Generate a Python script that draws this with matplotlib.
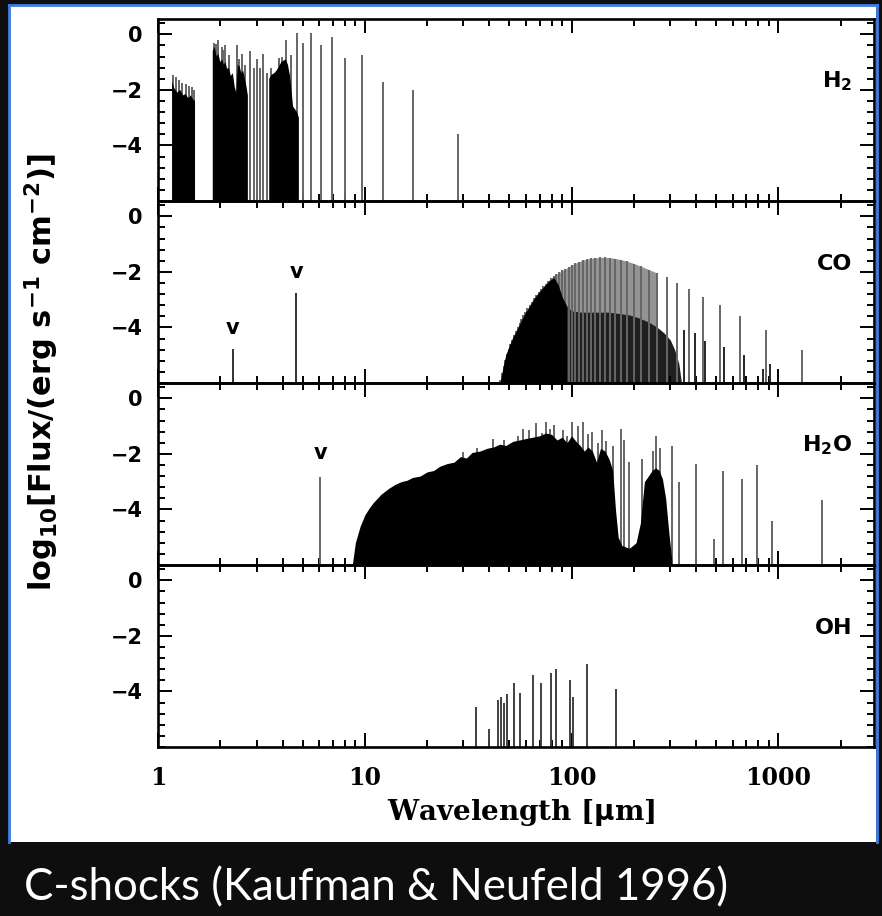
import numpy as np
import matplotlib.pyplot as plt
from matplotlib.lines import Line2D
from matplotlib.patches import Rectangle
from matplotlib.ticker import FixedLocator, MultipleLocator, LogLocator, NullFormatter

plt.rcParams['mathtext.fontset'] = 'dejavusans'

nan = np.nan

# ---------------- H2 ----------------
# unresolved groups of ro-vibrational lines (upper envelope, log flux)
h2_band_wl = [1.17, 1.20, 1.24, 1.28, 1.32, 1.36, 1.40, 1.44, 1.48, 1.51, nan,
              1.84, 1.88, 1.92, 1.96, 2.00, 2.04, 2.08, 2.12, 2.16, 2.20, 2.25, 2.30,
              2.35, 2.39, 2.43, 2.48, 2.53, 2.58, 2.63, 2.68, 2.72, nan,
              3.45, 3.55, 3.65, 3.75, 3.85, 3.95, 4.05, 4.15, 4.25, 4.35, 4.50, 4.70, 4.80]
h2_band_top = [-1.7, -1.95, -2.1, -2.0, -2.2, -2.15, -2.3, -2.2, -2.35, -2.4, nan,
               -0.6, -0.45, -0.8, -0.7, -1.0, -0.9, -1.1, -1.0, -1.25, -1.2, -1.5, -1.4,
               -1.9, -2.1, -1.1, -1.15, -1.4, -1.3, -1.6, -1.9, -2.2, nan,
               -1.6, -1.45, -1.4, -1.3, -1.15, -1.0, -0.95, -0.9, -1.1, -1.5, -2.6, -2.8, -3.0]
# individual lines
h2_wl = [1.18, 1.22, 1.27, 1.31, 1.36, 1.41, 1.46, 1.50,
         1.86, 1.91, 1.96, 2.03, 2.07, 2.12, 2.20, 2.41, 2.47, 2.56, 2.63, 2.80, 2.90,
         3.00, 3.12, 3.23, 3.35, 3.50, 3.85, 3.99, 4.18, 4.41, 4.69, 5.05, 5.51, 6.11,
         6.91, 8.03, 9.66, 12.28, 17.03, 28.22]
h2_flux = [-1.45, -1.55, -1.65, -1.75, -1.8, -1.85, -1.9, -2.0,
           -0.3, -0.35, -0.2, -0.45, -0.55, -0.4, -0.75, -0.4, -0.9, -0.7, -1.1, -0.6, -1.2,
           -0.9, -1.2, -0.7, -1.4, -1.2, -0.85, -0.8, -0.2, -0.75, 0.05, -0.3, 0.05, -0.4,
           -0.1, -0.85, -0.75, -1.7, -2.0, -3.6]

# ---------------- CO ----------------
co_wl = [1300.4, 867.0, 650.3, 520.2, 433.6, 371.7, 325.2, 289.1, 260.2, 236.6, 216.9,
         200.3, 186.0, 173.6, 162.8, 153.3, 144.8, 137.2, 130.4, 124.2, 118.6, 113.5,
         108.8, 104.4, 100.5, 96.8, 93.3, 90.2, 87.2, 84.4, 81.8, 79.4, 77.1, 75.0, 72.9,
         71.0, 69.2, 67.5, 65.7, 64.1, 62.6, 61.2, 59.8, 58.5, 57.2, 56.0, 54.8, 53.7,
         52.6, 51.6, 50.6, 49.6, 48.7, 47.8, 46.9, 46.1, 45.3]
co_flux = [-4.8, -4.1, -3.6, -3.2, -2.9, -2.6, -2.4, -2.2, -2.05, -1.92, -1.8,
           -1.7, -1.62, -1.56, -1.52, -1.49, -1.48, -1.48, -1.49, -1.51, -1.54, -1.58,
           -1.63, -1.69, -1.75, -1.82, -1.89, -1.95, -2.02, -2.08, -2.15, -2.23, -2.32,
           -2.42, -2.52, -2.62, -2.73, -2.84, -2.95, -3.07, -3.19, -3.31, -3.43, -3.56,
           -3.69, -3.83, -3.98, -4.13, -4.28, -4.44, -4.6, -4.78, -4.97, -5.17, -5.4,
           -5.65, -5.9]
# darker, lower series (isotopic lines)
co_iso_wl = [907.0, 840.0, 680.0, 545.0, 440.0, 395.0, 350.0]
co_iso_flux = [-5.3, -5.5, -5.0, -4.7, -4.5, -4.2, -4.1]
# dark unresolved core of the rotational dome
co_band_wl = [45.3, 46.0, 47.0, 48.0, 50.0, 52.0, 54.0, 56.0, 58.0, 60.0, 63.0, 66.0,
              70.0, 74.0, 78.0, 82.0, 86.0, 90.0, 95.0, 100.0, 110.0, 120.0, 135.0,
              150.0, 170.0, 190.0, 210.0, 235.0, 260.0, 280.0, 300.0, 315.0, 330.0, 340.0]
co_band_top = [-5.9, -5.65, -5.3, -5.0, -4.65, -4.35, -4.12, -3.88, -3.65, -3.45, -3.2,
               -2.95, -2.7, -2.5, -2.32, -2.2, -2.45, -2.9, -3.25, -3.4, -3.45, -3.45,
               -3.45, -3.45, -3.5, -3.55, -3.65, -3.8, -4.0, -4.2, -4.45, -4.8, -5.3, -6.0]
# vibrational bands
co_vib_wl = [2.30, 4.65]
co_vib_flux = [-4.76, -2.76]

# ---------------- H2O ----------------
h2o_band_wl = [8.7, 9.0, 9.5, 10.0, 10.5, 11.0, 12.0, 13.0, 14.0, 15.0, 16.0, 17.0,
               18.5, 20.0, 21.5, 23.0, 25.0, 27.0, 29.0, 31.0, 33.0, 36.0, 39.0, 42.0,
               45.0, 48.0, 52.0, 56.0, 60.0, 65.0, 70.0, 75.0, 80.0, 85.0, 90.0, 95.0,
               100.0, 105.0, 110.0, 115.0, 120.0, 126.0, 132.0, 138.0, 145.0, 152.0,
               158.0, 163.0, 168.0, 175.0, 190.0, 205.0, 215.0, 225.0, 235.0, 245.0,
               255.0, 265.0, 275.0, 285.0, 295.0, 305.0]
h2o_band_top = [-6.0, -5.2, -4.6, -4.2, -3.95, -3.75, -3.45, -3.25, -3.1, -3.0, -2.95,
                -2.85, -2.8, -2.65, -2.6, -2.45, -2.35, -2.3, -2.1, -2.15, -1.95, -1.9,
                -1.8, -1.75, -1.65, -1.7, -1.55, -1.5, -1.45, -1.4, -1.35, -1.25, -1.3,
                -1.5, -1.4, -1.6, -1.35, -1.55, -1.7, -1.9, -1.75, -1.9, -2.3, -1.8,
                -1.9, -2.2, -2.6, -4.0, -5.0, -5.3, -5.4, -5.2, -4.5, -3.0, -2.8, -2.6,
                -2.5, -2.6, -2.9, -3.6, -4.8, -5.8]
h2o_wl = [6.1, 30.0, 35.0, 41.6, 47.0, 55.0, 58.0, 62.0, 67.0, 72.0, 75.4, 79.0, 82.0,
          90.5, 95.0, 101.0, 108.0, 113.0, 120.0, 126.0, 134.0, 141.0, 147.0, 158.0,
          174.0, 180.0, 190.0, 218.0, 230.0, 248.0, 257.0, 269.0, 307.0, 330.0, 400.0,
          490.0, 538.0, 670.0, 790.0, 930.0, 1630.0]
h2o_flux = [-2.85, -1.95, -1.8, -1.45, -1.5, -1.35, -1.1, -1.15, -0.9, -1.25, -0.85,
            -1.1, -0.95, -1.15, -1.35, -0.84, -1.0, -0.85, -1.3, -1.2, -1.6, -1.13,
            -1.55, -1.7, -1.1, -1.5, -2.3, -2.2, -3.5, -1.9, -1.36, -1.8, -1.73, -3.0,
            -2.36, -5.05, -2.6, -2.9, -2.4, -4.4, -3.65]

# ---------------- OH ----------------
oh_wl = [34.6, 39.7, 44.0, 45.5, 47.0, 48.5, 52.8, 56.0, 65.1, 71.2, 79.1, 84.4,
         98.7, 101.5, 119.3, 163.1]
oh_flux = [-4.55, -5.35, -4.3, -4.2, -4.4, -4.1, -3.7, -4.05, -3.4, -3.7, -3.35, -3.2,
           -3.6, -4.2, -3.03, -3.9]

W, H = 882, 916
fig = plt.figure(figsize=(W / 100, H / 100), dpi=100, facecolor='#0e0e0e')
fig.patches.append(Rectangle((10 / W, 1 - 842 / H), 866 / W, 836 / H,
                             transform=fig.transFigure, facecolor='white',
                             edgecolor='none', zorder=-10))
blue = '#3f7de0'
for xs, ys in [([9 / W, 9 / W], [1 - 842 / H, 1 - 5 / H]),
               ([9 / W, 877 / W], [1 - 5 / H, 1 - 5 / H]),
               ([877 / W, 877 / W], [1 - 5 / H, 1 - 842 / H])]:
    fig.lines.append(Line2D(xs, ys, transform=fig.transFigure, color=blue, lw=2.0,
                            zorder=-5))

axes = fig.subplots(4, 1, sharex=True)
fig.subplots_adjust(left=158 / W, right=874 / W, top=1 - 19 / H, bottom=1 - 747 / H,
                    hspace=0)

bottom = -6.5
line_col = '0.4'
lw = 1.4

def style(ax):
    ax.set_facecolor('none')
    ax.set_xscale('log')
    ax.set_xlim(1, 2900)
    ax.set_ylim(-6.0, 0.55)
    ax.yaxis.set_major_locator(FixedLocator([0, -2, -4]))
    ax.yaxis.set_minor_locator(MultipleLocator(0.4))
    ax.set_yticklabels(['0', '\u22122', '\u22124'], fontsize=15, fontweight='bold')
    ax.xaxis.set_major_locator(FixedLocator([1, 10, 100, 1000]))
    ax.xaxis.set_minor_locator(LogLocator(base=10, subs=np.arange(2, 10)))
    ax.xaxis.set_minor_formatter(NullFormatter())
    ax.tick_params(which='both', direction='in', top=True, right=True,
                   width=1.4, color='black')
    ax.tick_params(which='major', length=10, pad=11)
    ax.tick_params(which='minor', length=5)
    for s in ax.spines.values():
        s.set_linewidth(1.9)
        s.set_zorder(5)

def label(ax, text):
    ax.text(0.97, -1.7, text, transform=ax.get_yaxis_transform(), ha='right',
            va='center', fontsize=16, fontweight='bold')

# H2
ax = axes[0]
ax.vlines(h2_wl, bottom, h2_flux, colors=line_col, lw=lw)
ax.fill_between(h2_band_wl, bottom, h2_band_top, color='black', lw=0, zorder=3)
label(ax, r'$\mathbf{H_2}$')

# CO
ax = axes[1]
co_wl_a = np.array(co_wl)
co_flux_a = np.array(co_flux)
dense = co_wl_a < 280
ax.fill_between(co_wl_a[dense], bottom, co_flux_a[dense], color='0.58', lw=0)
band_wl = np.array(co_band_wl)
band_top = np.array(co_band_top)
left = band_wl <= 95
# blended left flank: solid black; inner dome: dark, striped by the gray lines
ax.fill_between(band_wl[~left | (band_wl == 95)], bottom,
                band_top[~left | (band_wl == 95)], color='0.12', lw=0, zorder=1.5)
ax.vlines(co_wl, bottom, co_flux, colors=line_col, lw=lw, zorder=2)
ax.fill_between(band_wl[left], bottom, band_top[left], color='black', lw=0, zorder=3)
ax.vlines(co_iso_wl, bottom, co_iso_flux, colors='0.15', lw=lw, zorder=3)
ax.vlines(co_vib_wl, bottom, co_vib_flux, colors='0.2', lw=lw)
for x, y in zip(co_vib_wl, co_vib_flux):
    ax.text(x, y + 0.75, 'v', ha='center', va='center', fontsize=15, fontweight='bold')
label(ax, 'CO')

# H2O
ax = axes[2]
ax.vlines(h2o_wl, bottom, h2o_flux, colors=line_col, lw=lw)
ax.fill_between(h2o_band_wl, bottom, h2o_band_top, color='black', lw=0, zorder=3)
ax.text(h2o_wl[0], h2o_flux[0] + 0.88, 'v', ha='center', va='center', fontsize=15,
        fontweight='bold')
label(ax, r'$\mathbf{H_2O}$')

# OH
ax = axes[3]
ax.vlines(oh_wl, bottom, oh_flux, colors='0.25', lw=lw)
label(ax, 'OH')

for ax in axes:
    style(ax)
for ax in axes[:3]:
    ax.tick_params(labelbottom=False)
axes[3].set_xticklabels(['1', '10', '100', '1000'], fontsize=17, fontweight='bold',
                        family='DejaVu Serif')
axes[3].tick_params(axis='x', which='major', pad=14)

fig.text(521 / W, 1 - 812 / H, r'Wavelength [$\mathbf{\mu}$m]', ha='center', va='center',
         fontsize=20, fontweight='bold', family='DejaVu Serif')
fig.text(42 / W, 1 - 372 / H,
         r'log$_{\mathbf{10}}$[Flux/(erg s$^{\mathbf{-1}}$ cm$^{\mathbf{-2}}$)]',
         rotation=90, ha='center', va='center', fontsize=22, fontweight='bold')

fig.text(24 / W, 16 / H, 'C-shocks (Kaufman & Neufeld 1996)', color='white',
         fontsize=31.5, family='Lato', va='baseline', ha='left')

fig.savefig('out.png', dpi=100, facecolor=fig.get_facecolor())
